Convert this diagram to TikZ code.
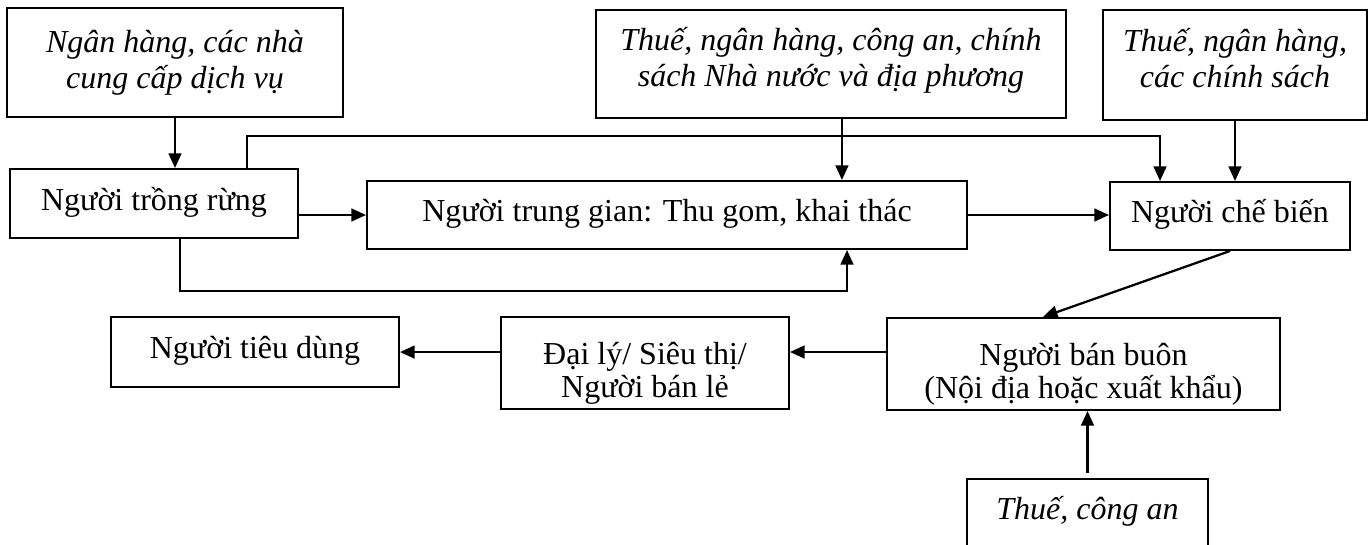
\documentclass[tikz,border=0pt]{standalone}
\usepackage{fontspec}
\setmainfont{Liberation Serif}
\usetikzlibrary{arrows.meta}

\begin{document}
\begin{tikzpicture}[
    x=0.375pt, y=-0.375pt,
    box/.style={rectangle, draw, line width=0.75pt, inner sep=0pt, align=center,
        text height=7.5pt, text depth=2.6pt, font=\fontsize{12}{12.2}\selectfont},
    box2/.style={box, text height=28.1pt, text depth=2.6pt},
    src/.style={box, text height=21.75pt, text depth=2.6pt,
        font=\fontsize{12}{13.5}\selectfont\itshape},
    arrow/.style={-{Triangle[length=5.5pt,width=4.8pt]}, line width=0.85pt}
]
    \useasboundingbox (0,0) rectangle (1368,545);

    % Outside actors
    \node[src, minimum width=126pt, minimum height=40.9pt] (bank) at (175,62.5) {Ngân hàng, các nhà\\cung cấp dịch vụ};
    \node[src, minimum width=176.25pt, minimum height=40.5pt, text height=19.5pt] (state) at (831,64) {Thuế, ngân hàng, công an, chính\\sách Nhà nước và địa phương};
    \node[src, minimum width=99pt, minimum height=41.25pt, text height=19.5pt] (policy) at (1235,65) {Thuế, ngân hàng,\\các chính sách};
    \node[src, minimum width=90.4pt, text height=15pt, text depth=16pt, anchor=north] (police) at (1087.5,478) {Thuế, công an};

    % Chain
    \node[box, minimum width=108pt, minimum height=25.9pt] (grower) at (154,203.5) {Người trồng rừng};
    \node[box, minimum width=225pt, minimum height=25.5pt] (middle) at (667,215) {Người trung gian: Thu gom, khai thác};
    \node[box, minimum width=90pt, minimum height=25.5pt] (processor) at (1230,216) {Người chế biến};
    \node[box2, minimum width=147.4pt, minimum height=34.5pt] (wholesale) at (1083.5,364) {Người bán buôn\\(Nội địa hoặc xuất khẩu)};
    \node[box2, minimum width=108pt, minimum height=34.5pt] (retail) at (645,363) {Đại lý/ Siêu thị/\\Người bán lẻ};
    \node[box, minimum width=108pt, minimum height=26.25pt] (consumer) at (255,352) {Người tiêu dùng};

    % Arrows
    \draw[arrow] (bank.south) -- (bank.south |- grower.north);
    \draw[arrow] (grower.east |- middle) -- (middle.west);
    \draw[arrow] (middle.east) -- (middle.east -| processor.west);
    \draw[arrow] ([xshift=4.1pt]state.south) -- ([xshift=4.1pt]state.south |- middle.north);
    \draw[arrow] (policy.south) -- (policy.south |- processor.north);
    \draw[arrow] ([xshift=34.9pt]grower.north) -- ++(0,-32) -| ([xshift=-26.25pt]processor.north);
    \draw[arrow] ([xshift=9.75pt]grower.south) -- ++(0,52) -| ([xshift=67.5pt]middle.south);
    \draw[arrow] (processor.south) -- ([xshift=-15.2pt]wholesale.north);
    \draw[arrow] ([yshift=4.5pt]wholesale.west) -- ([yshift=4.5pt]wholesale.west -| retail.east);
    \draw[arrow] ([yshift=4.1pt]retail.west) -- ([yshift=4.1pt]retail.west -| consumer.east);
    \draw[arrow, shorten <=1.9pt] (police.north) -- (police.north |- wholesale.south);
\end{tikzpicture}
\end{document}
